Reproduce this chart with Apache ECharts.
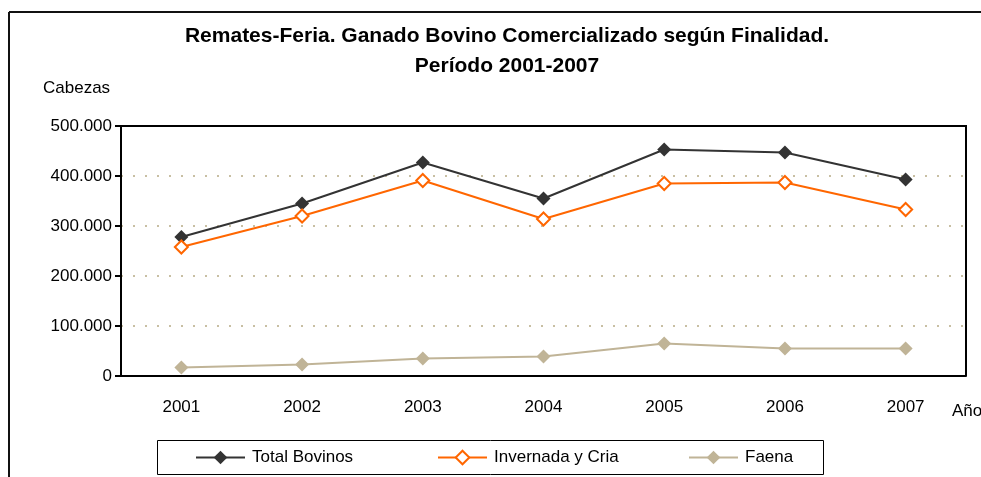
<!DOCTYPE html>
<html>
<head>
<meta charset="utf-8">
<script src="https://cdn.jsdelivr.net/npm/echarts@6/dist/echarts.min.js"></script>
<style>
  html, body { margin: 0; padding: 0; background: #fff; }
  #chart { width: 981px; height: 477px; }
</style>
</head>
<body>
<div id="chart"></div>
<script>
// Remates-feria: cabezas de ganado bovino por año y finalidad
const years = ['2001', '2002', '2003', '2004', '2005', '2006', '2007'];
const totalBovinos = [278000, 345000, 427000, 355000, 453000, 447000, 393000];
const invernadaCria = [258000, 320000, 391000, 314000, 385000, 387000, 333000];
const faena = [17000, 23000, 35000, 39000, 65000, 55000, 55000];
const yTicks = [0, 100000, 200000, 300000, 400000, 500000];

const FONT = 'Liberation Sans, Arial, sans-serif';
const C_TOTAL = '#333333';
const C_INV = '#ff6600';
const C_FAENA = '#c0b497';

// área de trazado (px)
const G = { left: 121, top: 126, right: 15, bottom: 101 };
const W = 981, H = 477;

function miles(v) {
  return v === 0 ? '0' : String(v).replace(/\B(?=(\d{3})+(?!\d))/g, '.');
}

const chart = echarts.init(document.getElementById('chart'), null, { renderer: 'canvas' });

function legendAt(name, x) {
  return {
    data: [name],
    left: x,
    top: 449,
    padding: 0,
    itemWidth: 49,
    itemHeight: 17,
    textStyle: { fontFamily: FONT, fontSize: 17, color: '#000', padding: [0, 0, 0, 2] },
    selectedMode: false
  };
}

chart.setOption({
  animation: false,
  backgroundColor: '#fff',
  title: {
    text: 'Remates-Feria. Ganado Bovino Comercializado según Finalidad.\nPeríodo 2001-2007',
    left: 502,
    textAlign: 'center',
    top: 16,
    textStyle: { fontFamily: FONT, fontSize: 21, fontWeight: 'bold', color: '#000', lineHeight: 30 }
  },
  legend: [
    legendAt('Total Bovinos', 195),
    legendAt('Invernada y Cria', 437),
    legendAt('Faena', 688)
  ],
  grid: {
    left: G.left, top: G.top, right: G.right, bottom: G.bottom,
    show: false
  },
  xAxis: {
    type: 'category',
    data: years,
    boundaryGap: true,
    axisLine: { lineStyle: { color: '#000', width: 2 } },
    axisTick: { inside: true, length: 6, lineStyle: { color: '#000', width: 2 } },
    axisLabel: { fontFamily: FONT, fontSize: 17, color: '#000', margin: 23 },
    splitLine: { show: false }
  },
  yAxis: {
    type: 'value',
    min: yTicks[0],
    max: yTicks[yTicks.length - 1],
    interval: yTicks[1] - yTicks[0],
    axisLine: { show: true, lineStyle: { color: '#000', width: 2 } },
    axisTick: { show: true, length: 6, lineStyle: { color: '#000', width: 2 } },
    axisLabel: { fontFamily: FONT, fontSize: 17, color: '#000', margin: 9, formatter: miles },
    splitLine: { show: true, lineStyle: { color: '#c8bfa3', width: 2, type: [2, 10] } }
  },
  series: [
    {
      name: 'Total Bovinos', type: 'line', data: totalBovinos,
      symbol: 'diamond', symbolSize: 14,
      lineStyle: { color: C_TOTAL, width: 2 },
      itemStyle: { color: C_TOTAL, borderColor: C_TOTAL, borderWidth: 0 },
      z: 3
    },
    {
      name: 'Invernada y Cria', type: 'line', data: invernadaCria,
      symbol: 'diamond', symbolSize: 13,
      lineStyle: { color: C_INV, width: 2 },
      itemStyle: { color: '#fff', borderColor: C_INV, borderWidth: 2 },
      z: 3
    },
    {
      name: 'Faena', type: 'line', data: faena,
      symbol: 'diamond', symbolSize: 14,
      lineStyle: { color: C_FAENA, width: 2 },
      itemStyle: { color: C_FAENA, borderColor: C_FAENA, borderWidth: 0 },
      z: 3
    }
  ],
  graphic: [
    // marco exterior (superior e izquierdo)
    { type: 'line', shape: { x1: 9, y1: 12, x2: W, y2: 12 }, style: { stroke: '#111', lineWidth: 2 }, silent: true },
    { type: 'line', shape: { x1: 9, y1: 12, x2: 9, y2: H }, style: { stroke: '#111', lineWidth: 2 }, silent: true },
    // bordes superior y derecho del área de trazado
    { type: 'polyline', z: 100,
      shape: { points: [[G.left, G.top], [W - G.right, G.top], [W - G.right, H - G.bottom]] },
      style: { stroke: '#000', lineWidth: 2, fill: 'none' }, silent: true },
    // recuadro de la leyenda
    { type: 'rect', shape: { x: 157.5, y: 440.5, width: 666, height: 34 }, style: { fill: 'none', stroke: '#000', lineWidth: 1 }, silent: true, z: -1 },
    // títulos de los ejes
    { type: 'text', left: 43, top: 80, style: { text: 'Cabezas', fontFamily: FONT, fontSize: 17, fill: '#000' }, silent: true },
    { type: 'text', left: 952, top: 403, style: { text: 'Año', fontFamily: FONT, fontSize: 17, fill: '#000' }, silent: true }
  ]
});
</script>
</body>
</html>
